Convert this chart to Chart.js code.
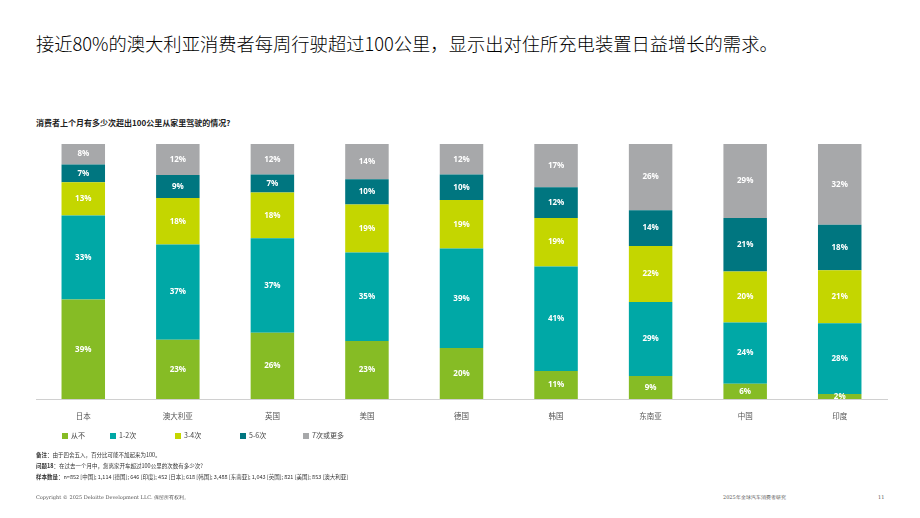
<!DOCTYPE html>
<html>
<head>
<meta charset="utf-8">
<script src="https://cdn.jsdelivr.net/npm/chart.js@4.4.1/dist/chart.umd.min.js"></script>
<style>
  body { margin: 0; width: 920px; height: 518px; background: #fff; position: relative; overflow: hidden;
         font-family: "Noto Sans CJK SC", "Noto Sans", sans-serif; color: #000; }
  .title { position: absolute; left: 36px; top: 30px; font-size: 18.3px; font-weight: 300; white-space: nowrap; }
  .subtitle { position: absolute; left: 36px; top: 117px; font-size: 8px; font-weight: bold; color: #222; }
  #wrap { position: absolute; left: 0; top: 136px; width: 920px; height: 298px; }
  #legend { position: absolute; left: 62px; top: 430px; font-size: 7px; color: #444; }
  #legend span.item { position: absolute; white-space: nowrap; }
  #legend i { display: inline-block; width: 6px; height: 6px; margin-right: 3px; vertical-align: -1px; }
  .note { position: absolute; left: 36px; font-size: 5.5px; color: #333; white-space: nowrap; }
  .foot { position: absolute; top: 494px; font-size: 5px; color: #555; font-family: "DejaVu Serif", serif; white-space: nowrap; }
</style>
</head>
<body>
<div class="title">接近80%的澳大利亚消费者每周行驶超过100公里，显示出对住所充电装置日益增长的需求。</div>
<div class="subtitle">消费者上个月有多少次超出100公里从家里驾驶的情况?</div>
<div id="wrap"><canvas id="chart"></canvas></div>
<div id="legend"></div>
<div class="note" style="top:451px"><b>备注：</b>由于四舍五入，百分比可能不加起来为100。</div>
<div class="note" style="top:462px"><b>问题18：</b>在过去一个月中，您离家开车超过100公里的次数有多少次?</div>
<div class="note" style="top:473px"><b>样本数量：</b>n=852 [中国]; 1,114 [德国]; 646 [印度]; 452 [日本]; 618 [韩国]; 3,488 [东南亚]; 1,043 [英国]; 821 [美国]; 853 [澳大利亚]</div>
<div class="foot" style="left:36px">Copyright © 2025 Deloitte Development LLC. 保留所有权利。</div>
<div class="foot" style="left:723px">2025年全球汽车消费者研究</div>
<div class="foot" style="left:878px">11</div>
<script>
const countries = ['日本', '澳大利亚', '英国', '美国', '德国', '韩国', '东南亚', '中国', '印度'];
const seriesNames = ['从不', '1-2次', '3-4次', '5-6次', '7次或更多'];
const seriesColors = ['#86BC25', '#00A8A6', '#C4D600', '#007680', '#A7A8AA'];

const never = [39, 23, 26, 23, 20, 11, 9, 6, 2];
const times12 = [33, 37, 37, 35, 39, 41, 29, 24, 28];
const times34 = [13, 18, 18, 19, 19, 19, 22, 20, 21];
const times56 = [7, 9, 7, 10, 10, 12, 14, 21, 18];
const times7plus = [8, 12, 12, 14, 12, 17, 26, 29, 32];

const allSeries = [never, times12, times34, times56, times7plus];

// 100% stacked: every bar fills the full height, labels keep the rounded values
const totals = countries.map((_, j) => allSeries.reduce((s, arr) => s + arr[j], 0));

const barLabels = {
  id: 'barLabels',
  afterDatasetsDraw(chart) {
    const ctx = chart.ctx;
    ctx.save();
    ctx.fillStyle = '#fff';
    ctx.font = 'bold 8px "Open Sans", "Noto Sans", sans-serif';
    ctx.textAlign = 'center';
    ctx.textBaseline = 'middle';
    chart.data.datasets.forEach((ds, i) => {
      chart.getDatasetMeta(i).data.forEach((bar, j) => {
        const mid = (bar.y + bar.base) / 2;
        ctx.fillText(allSeries[i][j] + '%', bar.x, mid);
      });
    });
    ctx.restore();
  }
};

new Chart(document.getElementById('chart'), {
  type: 'bar',
  data: {
    labels: countries,
    datasets: allSeries.map((vals, i) => ({
      label: seriesNames[i],
      data: vals.map((v, j) => v / totals[j] * 100),
      backgroundColor: seriesColors[i],
      borderWidth: 0,
      barPercentage: 0.46,
      categoryPercentage: 1
    }))
  },
  options: {
    responsive: true,
    maintainAspectRatio: false,
    animation: false,
    layout: { padding: { left: 36, right: 33, top: 8, bottom: 0 } },
    plugins: { legend: { display: false }, tooltip: { enabled: false } },
    scales: {
      x: {
        stacked: true,
        grid: { display: false, drawTicks: false },
        border: { color: '#d0d0d0', width: 1 },
        ticks: { color: '#555', font: { size: 7.5, family: '"Noto Sans CJK SC", sans-serif' }, padding: 13 }
      },
      y: {
        stacked: true,
        display: false,
        min: 0,
        max: 100
      }
    }
  },
  plugins: [barLabels]
});

// legend
const legendX = [0, 48, 113, 178, 241];
const legend = document.getElementById('legend');
seriesNames.forEach((name, i) => {
  const item = document.createElement('span');
  item.className = 'item';
  item.style.left = legendX[i] + 'px';
  item.innerHTML = '<i style="background:' + seriesColors[i] + '"></i>' + name;
  legend.appendChild(item);
});
</script>
</body>
</html>
